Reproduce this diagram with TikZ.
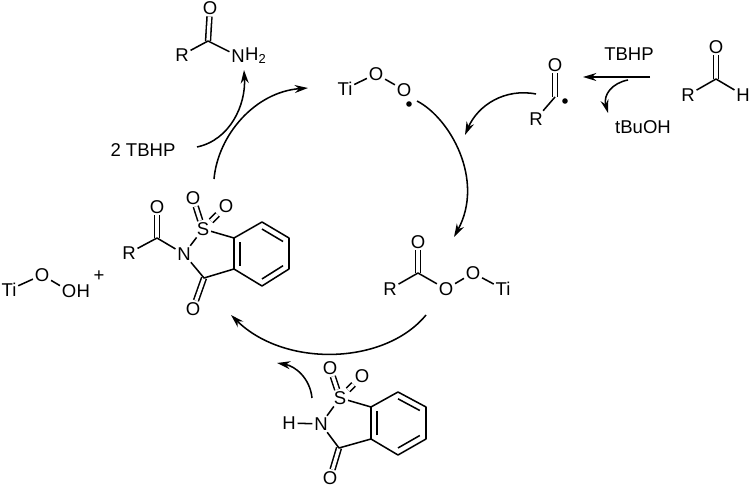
\documentclass[tikz,border=0pt]{standalone}
\usepackage{fontspec}
\setmainfont{Liberation Sans}
\usetikzlibrary{arrows.meta,calc,positioning}
\tikzset{
  atom/.style={inner sep=1.2pt,font=\fontsize{13.9}{16}\selectfont},
  tail/.style={atom,anchor=west,inner sep=0pt,xshift=-1.2pt},
  bond/.style={line width=1.15pt,line join=round},
  dbond/.style={bond,double,double distance=2.5pt},
  curve/.style={line width=1.15pt,-{Stealth[length=10pt,width=6pt]}},
  radical/.style={circle,fill=black,inner sep=0pt,minimum size=4.2pt}
}

\begin{document}
\begin{tikzpicture}[x=0.75pt,y=0.75pt,yscale=-1,xscale=1]
        \useasboundingbox (0,0) rectangle (751,488);

        % Amide
        \coordinate (amC) at (208,41);
        \draw (210,8) node [atom] (amO) {O};
        \draw (182,55) node [atom] (amR) {R};
        \draw (238,56) node [atom] (amN) {N};
        \draw (amN.east) node [tail] (amH) {H\textsubscript{2}};
        \draw [dbond] (amC) -- (amO);
        \draw [bond] (amR) -- (amC) -- (amN);

        % Ti peroxy radical
        \draw (345,89) node [atom] (trTi) {Ti};
        \draw (376,74) node [atom] (trOa) {O};
        \draw (404,90) node [atom] (trOb) {O};
        \draw (409,104) node [radical] (trDot) {};
        \draw [bond] (trTi) -- (trOa) -- (trOb);

        % Aldehyde
        \coordinate (alC) at (716,79);
        \draw (716,47) node [atom] (alO) {O};
        \draw (688,95) node [atom] (alR) {R};
        \draw (743,95) node [atom] (alH) {H};
        \draw [dbond] (alC) -- (alO);
        \draw [bond] (alR) -- (alC) -- (alH);

        % Acyl radical
        \coordinate (acC) at (555,97);
        \draw (555,65) node [atom] (acO) {O};
        \draw (536,119) node [atom] (acR) {R};
        \draw (565,101) node [radical] (acDot) {};
        \draw [dbond] (acC) -- (acO);
        \draw [bond] (acR) -- (acC);

        % Acyl peroxide
        \coordinate (peC) at (418,273);
        \draw (418,242) node [atom] (peO) {O};
        \draw (390,289) node [atom] (peR) {R};
        \draw (446,289) node [atom] (peOa) {O};
        \draw (473,273) node [atom] (peOb) {O};
        \draw (503,289) node [atom] (peTi) {Ti};
        \draw [dbond] (peC) -- (peO);
        \draw [bond] (peR) -- (peC) -- (peOa) -- (peOb) -- (peTi);

        % Ti hydroperoxide
        \draw (9,290) node [atom] (hpTi) {Ti};
        \draw (42,275) node [atom] (hpO) {O};
        \draw (69,291) node [atom] (hpOb) {O};
        \draw (hpOb.east) node [tail] (hpH) {H};
        \draw (99,276) node [atom] (hpPlus) {+};
        \draw [bond] (hpTi) -- (hpO) -- (hpOb);

        % N-acyl saccharin
        \coordinate (tsCo) at (157,238);
        \coordinate (tsC) at (204,278);
        \coordinate (tsA) at (234,269);
        \coordinate (tsB) at (234,238);
        \coordinate (tsD) at (262,222);
        \coordinate (tsE) at (289,238);
        \coordinate (tsF) at (289,269);
        \coordinate (tsG) at (262,286);
        \coordinate (tsMid) at (262,254);
        \draw (157,207) node [atom] (tsOa) {O};
        \draw (129,253) node [atom] (tsR) {R};
        \draw (184,254) node [atom] (tsN) {N};
        \draw (203,229) node [atom] (tsS) {S};
        \draw (193,198) node [atom] (tsOb) {O};
        \draw (226,206) node [atom] (tsOc) {O};
        \draw (193,309) node [atom] (tsOd) {O};
        \draw [dbond] (tsCo) -- (tsOa);
        \draw [dbond] (tsS) -- (tsOb);
        \draw [dbond] (tsS) -- (tsOc);
        \draw [dbond] (tsC) -- (tsOd);
        \draw [bond] (tsR) -- (tsCo) -- (tsN) -- (tsS) -- (tsB) -- (tsD) -- (tsE) -- (tsF) -- (tsG) -- (tsA) -- (tsC) -- (tsN);
        \draw [bond] (tsA) -- (tsB);
        \draw [bond] ($(tsA)!0.22!(tsMid)$) -- ($(tsB)!0.22!(tsMid)$);
        \draw [bond] ($(tsD)!0.22!(tsMid)$) -- ($(tsE)!0.22!(tsMid)$);
        \draw [bond] ($(tsF)!0.22!(tsMid)$) -- ($(tsG)!0.22!(tsMid)$);

        % Saccharin
        \coordinate (bsC) at (339,448);
        \coordinate (bsA) at (371,439);
        \coordinate (bsB) at (371,407);
        \coordinate (bsD) at (398,392);
        \coordinate (bsE) at (426,407);
        \coordinate (bsF) at (426,439);
        \coordinate (bsG) at (398,455);
        \coordinate (bsMid) at (398,423);
        \draw (289,423) node [atom] (bsH) {H};
        \draw (321,424) node [atom] (bsN) {N};
        \draw (340,398) node [atom] (bsS) {S};
        \draw (330,368) node [atom] (bsOb) {O};
        \draw (362,376) node [atom] (bsOc) {O};
        \draw (330,478) node [atom] (bsOd) {O};
        \draw [dbond] (bsS) -- (bsOb);
        \draw [dbond] (bsS) -- (bsOc);
        \draw [dbond] (bsC) -- (bsOd);
        \draw [bond] (bsH) -- (bsN) -- (bsS) -- (bsB) -- (bsD) -- (bsE) -- (bsF) -- (bsG) -- (bsA) -- (bsC) -- (bsN);
        \draw [bond] (bsA) -- (bsB);
        \draw [bond] ($(bsA)!0.22!(bsMid)$) -- ($(bsB)!0.22!(bsMid)$);
        \draw [bond] ($(bsD)!0.22!(bsMid)$) -- ($(bsE)!0.22!(bsMid)$);
        \draw [bond] ($(bsF)!0.22!(bsMid)$) -- ($(bsG)!0.22!(bsMid)$);

        % Text Node
        \draw (143,150) node [atom] (tbhpTwo) {2 TBHP};
        \draw (629,54) node [atom] (tbhpOne) {TBHP};
        \draw (643,127) node [atom] (tbuoh) {tBuOH};

        % Free ends of the arrows
        \coordinate (cyA) at (214,179);
        \coordinate (cyB) at (308,88);
        \coordinate (cyC) at (417,101);
        \coordinate (cyD) at (454,237);
        \coordinate (cyE) at (426,315);
        \coordinate (cyF) at (231,315);
        \coordinate (tbA) at (197,147);
        \coordinate (tbB) at (244,70);
        \coordinate (hsA) at (650,77);
        \coordinate (hsB) at (583,77);
        \coordinate (elA) at (628,80);
        \coordinate (elB) at (608,113);
        \coordinate (raA) at (536,94);
        \coordinate (raB) at (465,135);
        \coordinate (saA) at (312,398);
        \coordinate (saB) at (277,363);

        % Catalytic cycle
        \draw [curve] (cyA) .. controls (218,135) and (255,92) .. (cyB);
        \draw [curve] (cyC) .. controls (450,118) and (485,180) .. (cyD);
        \draw [curve] (cyE) .. controls (385,365) and (285,368) .. (cyF);

        % Side arrows
        \draw [curve] (tbA) .. controls (230,140) and (246,105) .. (tbB);
        \draw [curve] (hsA) -- (hsB);
        \draw [curve] (elA) .. controls (612,83) and (603,95) .. (elB);
        \draw [curve] (raA) .. controls (505,88) and (478,105) .. (raB);
        \draw [curve] (saA) .. controls (310,378) and (295,366) .. (saB);
\end{tikzpicture}
\end{document}
